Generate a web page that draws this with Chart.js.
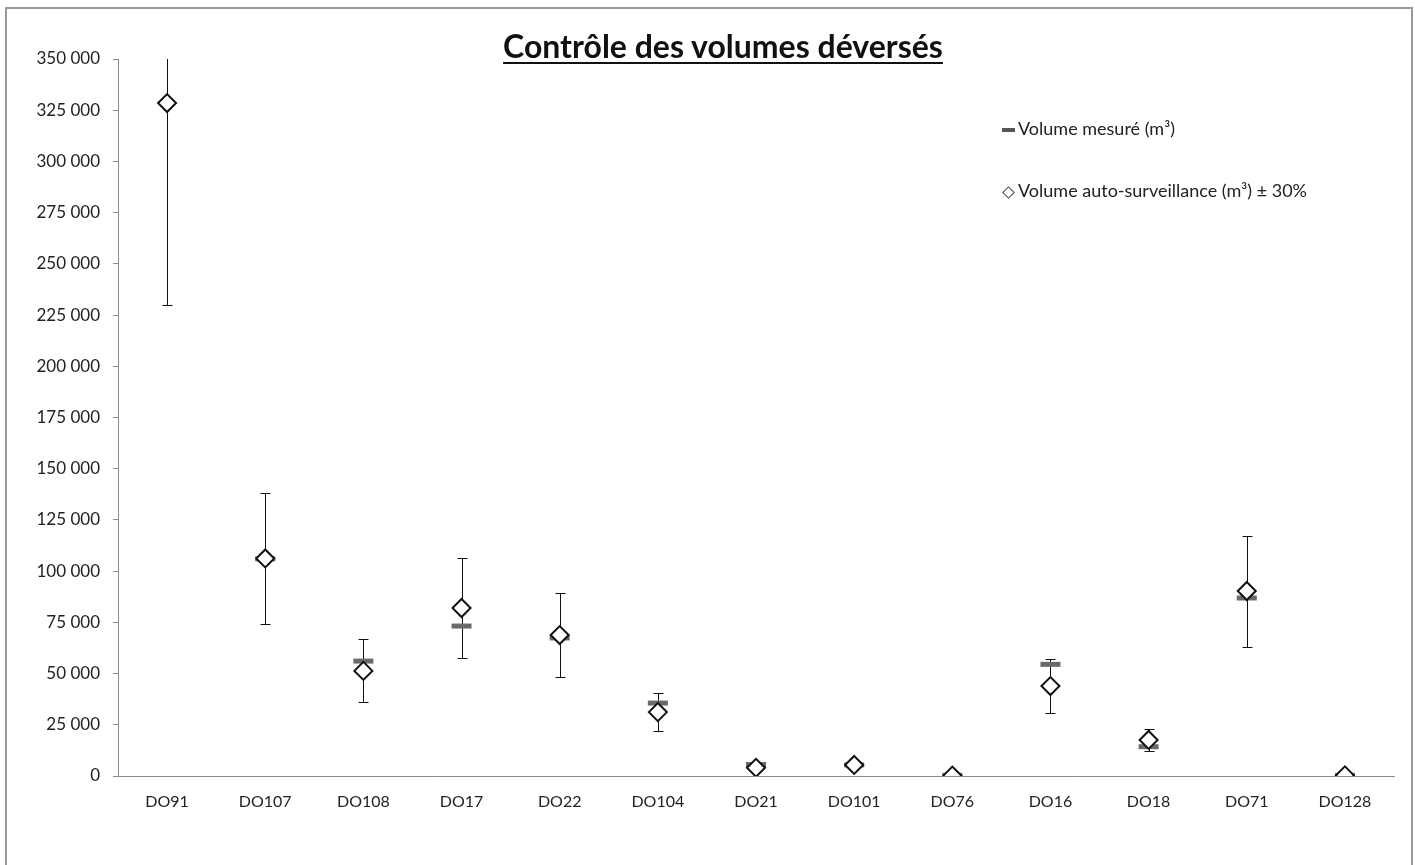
<!DOCTYPE html>
<html>
<head>
<meta charset="utf-8">
<script src="https://cdn.jsdelivr.net/npm/chart.js@4/dist/chart.umd.min.js"></script>
<style>
  body { margin: 0; background: #fff; }
  #wrap { position: relative; width: 1415px; height: 865px; overflow: hidden; }
  #frame { position: absolute; left: 5px; top: 7px; width: 1404px; height: 870px; border: 2px solid #999; pointer-events: none; }
  #title { position: absolute; left: 0; width: 1446px; top: 26px; text-align: center; font: bold 32px Lato, sans-serif; color: #111; text-decoration: underline; text-decoration-thickness: 2px; text-underline-offset: 4px; }
  .leg { position: absolute; font: 18px Lato, sans-serif; color: #222; white-space: nowrap; }
  .dash { display: inline-block; width: 13px; height: 4px; background: #555; vertical-align: middle; margin-right: 3px; }
  .diam { display: inline-block; width: 7px; height: 7px; border: 1px solid #444; transform: rotate(45deg); vertical-align: middle; margin: 0 5px 0 3px; }
</style>
</head>
<body>
<div id="wrap">
  <canvas id="chart" width="1415" height="865"></canvas>
  <div id="title">Contrôle des volumes déversés</div>
  <div class="leg" style="left:1002px; top:117px;"><span class="dash"></span>Volume mesuré (m³)</div>
  <div class="leg" style="left:1001px; top:179px;"><span class="diam"></span>Volume auto-surveillance (m³) ± 30%</div>
  <div id="frame"></div>
</div>
<script>
// Categories (overflow points)
const categories = ['DO91', 'DO107', 'DO108', 'DO17', 'DO22', 'DO104', 'DO21', 'DO101', 'DO76', 'DO16', 'DO18', 'DO71', 'DO128'];

// Volume auto-surveillance (m3), shown with +/- 30% error bars
const autoSurveillance = [328500, 106200, 51300, 82000, 68800, 31200, 4000, 5400, 200, 43900, 17600, 90300, 300];

// Volume mesure (m3)
const measured = [null, 106000, 56100, 73200, 67400, 35600, 5600, 5400, 300, 54500, 14300, 86900, 300];

// Y axis range
const yMax = 350000;
const yStep = 25000;
const errorPct = 0.3;

// Format numbers with a space as thousands separator
const fmt = v => String(v).replace(/\B(?=(\d{3})+(?!\d))/g, ' ');

// Draws the +/- 30% error bars under the markers
const errorBars = {
    id: 'errorBars',
    beforeDatasetsDraw(chart) {
        const { ctx, chartArea, scales } = chart;
        const meta = chart.getDatasetMeta(1);
        ctx.save();
        ctx.beginPath();
        ctx.rect(chartArea.left, chartArea.top, chartArea.right - chartArea.left, chartArea.bottom - chartArea.top);
        ctx.clip();
        ctx.strokeStyle = '#111';
        ctx.lineWidth = 1;
        autoSurveillance.forEach((v, i) => {
            const x = Math.round(meta.data[i].x) + 0.5;
            const hi = v * (1 + errorPct);
            const lo = v * (1 - errorPct);
            const yHi = Math.round(scales.y.getPixelForValue(hi)) + 0.5;
            const yLo = Math.round(scales.y.getPixelForValue(lo)) + 0.5;
            ctx.beginPath();
            ctx.moveTo(x, yHi);
            ctx.lineTo(x, yLo);
            if (hi <= yMax) {
                ctx.moveTo(x - 5, yHi);
                ctx.lineTo(x + 5, yHi);
            }
            ctx.moveTo(x - 5, yLo);
            ctx.lineTo(x + 5, yLo);
            ctx.stroke();
        });
        ctx.restore();
    }
};

const ctx = document.getElementById('chart').getContext('2d');
new Chart(ctx, {
    type: 'line',
    data: {
        labels: categories,
        datasets: [
            {
                label: 'Volume mesuré (m³)',
                data: measured,
                order: 2,
                showLine: false,
                pointStyle: 'line',
                pointRadius: 10,
                pointBorderWidth: 5,
                pointBorderColor: '#6a6a6a',
                pointBackgroundColor: '#6a6a6a'
            },
            {
                label: 'Volume auto-surveillance (m³) ± 30%',
                data: autoSurveillance,
                order: 1,
                showLine: false,
                pointStyle: 'rectRot',
                pointRadius: 9,
                pointBorderWidth: 2,
                pointBorderColor: '#111',
                pointBackgroundColor: '#fff'
            }
        ]
    },
    options: {
        responsive: false,
        animation: false,
        layout: { padding: { top: 59, right: 21, left: 0, bottom: 0 } },
        scales: {
            x: {
                offset: true,
                grid: { display: false },
                border: { display: true, color: '#8a8a8a', width: 1 },
                ticks: { color: '#222', font: { family: 'Lato', size: 16 }, padding: 8 },
                afterFit: scale => { scale.height = 89; }
            },
            y: {
                min: 0,
                max: yMax,
                grid: { drawOnChartArea: false, drawTicks: true, tickLength: 5, color: '#8a8a8a' },
                border: { display: true, color: '#8a8a8a', width: 1 },
                ticks: {
                    stepSize: yStep,
                    color: '#222',
                    font: { family: 'Lato', size: 17 },
                    padding: 13,
                    callback: v => fmt(v)
                },
                afterFit: scale => { scale.width = 118; }
            }
        },
        plugins: {
            legend: { display: false },
            tooltip: { enabled: false }
        }
    },
    plugins: [errorBars]
});
</script>
</body>
</html>
